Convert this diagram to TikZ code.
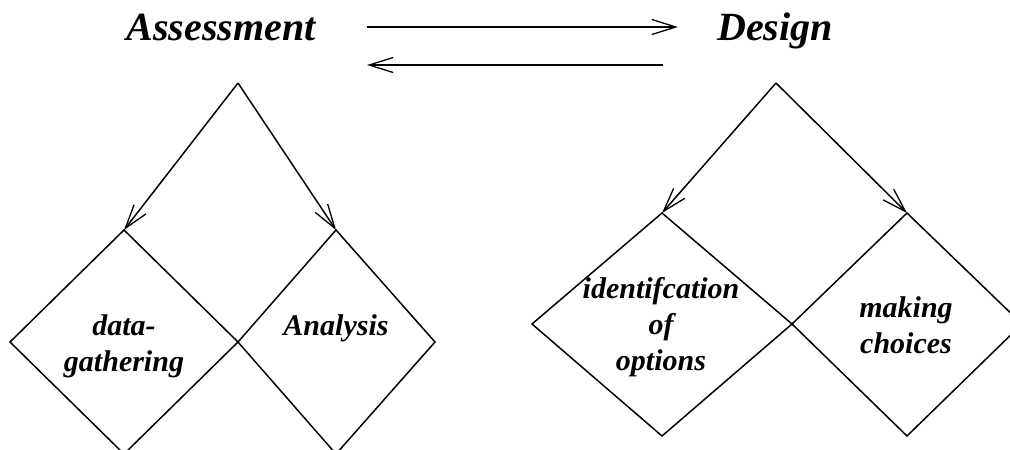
\documentclass[tikz,border=0pt]{standalone}
\usepackage{fontspec}
\setmainfont{Liberation Serif}
\usetikzlibrary{arrows.meta}
\begin{document}
\begin{tikzpicture}[x=1pt,y=-1pt, line width=1.5pt, line join=miter,
  tip/.style={-{Straight Barb[length=24pt,width=15pt,line width=1.3pt]}},
  title/.style={font=\fontsize{40}{48}\selectfont\bfseries\itshape, anchor=base, inner sep=0pt},
  txt/.style={font=\fontsize{30}{36}\selectfont\bfseries\itshape, align=center, anchor=base, inner sep=0pt}]
\useasboundingbox (0,0) rectangle (1010,450);
\clip (0,0) rectangle (1010,450);
% titles
\node[title] (assess) at (221,40) {Assessment};
\node[title] (design) at (775,40) {Design};
\coordinate (a1) at (367,27); \coordinate (a2) at (678,27);
\coordinate (b1) at (663,65); \coordinate (b2) at (367,65);
\draw[tip] (a1) -- (a2);
\draw[tip] (b1) -- (b2);
% left group
\coordinate (LA) at (238,83);
\coordinate (LT1) at (124,230);
\coordinate (LT2) at (336,230);
\coordinate (LM) at (238,342);
\draw[tip] (LA) -- (LT1);
\draw[tip] (LA) -- (LT2);
\draw (LT1) -- (10,342) -- (124,454) -- (LM) -- cycle;
\draw (LT2) -- (LM) -- (336,454) -- (435,342) -- cycle;
% right group
\coordinate (RA) at (776,83);
\coordinate (RT1) at (662,213);
\coordinate (RT2) at (907,213);
\coordinate (RM) at (792,324);
\draw[tip] (RA) -- (RT1);
\draw[tip] (RA) -- (RT2);
\draw (RT1) -- (532,324) -- (662,436) -- (RM) -- cycle;
\draw (RT2) -- (RM) -- (907,436) -- (1022,324) -- cycle;
% texts (base anchor = baseline of last line)
\node[txt] (dg) at (124,371) {data-\\gathering};
\node[txt] (an) at (336,335) {Analysis};
\node[txt] (io) at (661,370) {identifcation\\of\\options};
\node[txt] (mc) at (906,353) {making\\choices};
\end{tikzpicture}
\end{document}
